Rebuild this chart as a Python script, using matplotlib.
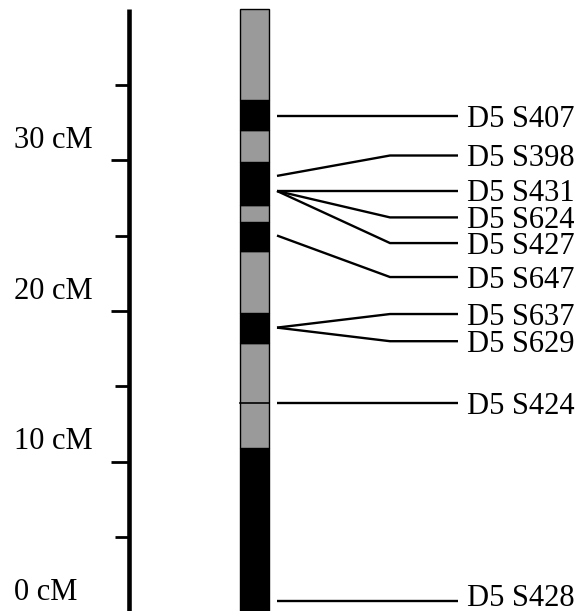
import matplotlib
matplotlib.use("Agg")
import matplotlib.pyplot as plt
from matplotlib.patches import Rectangle

# ---- data ----
axis_labels = ["0 cM", "10 cM", "20 cM", "30 cM"]
major_ticks = [0, 10, 20, 30]
minor_ticks = [5, 15, 25, 35]
axis_top = 40.0

# chromosome bands: (start cM, end cM, kind)
band_start = [0.0, 10.9, 17.9, 19.9, 24.0, 25.9, 27.0, 29.9, 32.0, 34.0]
band_end = [10.9, 17.9, 19.9, 24.0, 25.9, 27.0, 29.9, 32.0, 34.0, 40.0]
band_kind = ["dark", "light", "dark", "light", "dark", "light", "dark", "light", "dark", "light"]
band_divider = [13.9]

marker_names = ["D5 S407", "D5 S398", "D5 S431", "D5 S624", "D5 S427",
                "D5 S647", "D5 S637", "D5 S629", "D5 S424", "D5 S428"]
marker_pos = [32.9, 28.95, 27.95, 27.95, 27.95, 25.0, 18.9, 18.9, 13.9, 0.8]
label_pos = [32.9, 30.3, 27.95, 26.2, 24.5, 22.25, 19.8, 18.0, 13.9, 0.8]

# ---- layout ----
W, H, DPI = 581, 611, 100
fig = plt.figure(figsize=(W / DPI, H / DPI), dpi=DPI)
ax = fig.add_axes([0, 0, 1, 1])
ax.set_xlim(0, W)
ax.set_ylim(0.13, 40.6)
ax.axis("off")

font = dict(family=["Liberation Serif", "DejaVu Serif"], size=22, color="black")

# scale axis
axis_x = 128.5
ax.plot([axis_x, axis_x], [0, axis_top], color="black", lw=3.3, solid_capstyle="butt")
for t in major_ticks:
    ax.plot([110.5, axis_x], [t, t], color="black", lw=2.0, solid_capstyle="butt")
for t in minor_ticks:
    ax.plot([115, axis_x], [t, t], color="black", lw=2.0, solid_capstyle="butt")
for t, lab in zip(major_ticks, axis_labels):
    ax.annotate(lab, xy=(14, t), xytext=(0, 12.5), textcoords="offset pixels",
                ha="left", va="baseline", annotation_clip=False, **font)

# chromosome bar
bx0, bx1 = 239.8, 268.8
for s, e, k in zip(band_start, band_end, band_kind):
    fc = "black" if k == "dark" else "#9a9a9a"
    ax.add_patch(Rectangle((bx0, s), bx1 - bx0, e - s, facecolor=fc,
                           edgecolor="black", lw=1.0))
for d in band_divider:
    ax.plot([bx0, bx1], [d, d], color="black", lw=1.2)

# markers
x_start, x_elbow, x_end, x_text = 277, 390, 458, 467
for name, mp, lp in zip(marker_names, marker_pos, label_pos):
    ax.plot([x_start, x_elbow, x_end], [mp, lp, lp], color="black", lw=1.7,
            solid_capstyle="butt", solid_joinstyle="miter")
    # keep the baseline inside the figure (bottom label sits higher)
    line_px = ax.transData.transform((x_text, lp))[1]
    off = -10.5
    if line_px + off < 5.5:
        off = 5.5 - line_px
    ax.annotate(name, xy=(x_text, lp), xytext=(0, off), textcoords="offset pixels",
                ha="left", va="baseline", annotation_clip=False, **font)

fig.savefig("out.png", dpi=DPI)
